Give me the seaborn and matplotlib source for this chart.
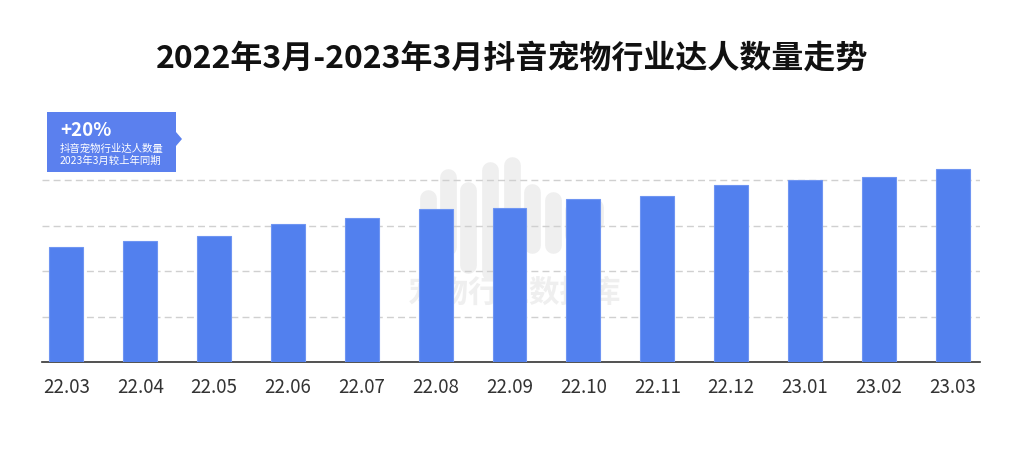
import matplotlib.pyplot as plt
import seaborn as sns
import pandas as pd
from matplotlib.lines import Line2D
from matplotlib.patches import Polygon

# 月份与达人数量（相对值，从图上估读）
months = ['22.03', '22.04', '22.05', '22.06', '22.07', '22.08', '22.09',
          '22.10', '22.11', '22.12', '23.01', '23.02', '23.03']
counts = [25.3, 26.6, 27.7, 30.3, 31.6, 33.6, 33.8, 35.8, 36.5, 38.9, 40.0, 40.7, 42.4]

title = '2022年3月-2023年3月抖音宠物行业达人数量走势'
note_big = '+20%'
note_small = '抖音宠物行业达人数量\n2023年3月较上年同期'

sns.set_style('white')
plt.rcParams['font.family'] = ['Noto Sans CJK SC', 'DejaVu Sans']

df = pd.DataFrame({'month': months, 'count': counts})

fig = plt.figure(figsize=(10.24, 4.69), dpi=100)
ax = fig.add_axes([0.041, 0.228, 0.916, 0.4366])
ax.set_facecolor('none')

# 水印（背景）
wm_color = '#efefef'
strokes = [(428, 198, 222), (448, 177, 247), (468, 190, 265), (490, 170, 272),
           (512, 165, 262), (532, 192, 245), (553, 200, 245), (573, 210, 235), (595, 207, 222)]
for sx, y0, y1 in strokes:
    fig.add_artist(Line2D([sx / 1024, sx / 1024], [1 - y0 / 469, 1 - y1 / 469],
                          color=wm_color, lw=12, solid_capstyle='round', zorder=-2))
fig.text(515 / 1024, 1 - 293 / 469, '宠物行业数据库', ha='center', va='center',
         fontsize=22, fontweight='bold', style='italic', color=wm_color, zorder=-2)

sns.barplot(data=df, x='month', y='count', color='#5280ee', width=0.46,
            saturation=1, edgecolor='#6f95f2', linewidth=0.8, ax=ax, zorder=3)

ax.set_xlim(-0.33, 12.37)
ax.set_ylim(0, 45)
ax.set_yticks([10, 20, 30, 40])
ax.yaxis.grid(True, linestyle=(0, (5, 3)), color='#d0d0d0', linewidth=1)
ax.set_axisbelow(True)
ax.tick_params(axis='y', left=False, labelleft=False)
ax.tick_params(axis='x', bottom=False, labelsize=13.5, labelcolor='#333333', pad=7)
ax.set_xlabel('')
ax.set_ylabel('')
for s in ['top', 'right', 'left']:
    ax.spines[s].set_visible(False)
ax.spines['bottom'].set_color('#333333')
ax.spines['bottom'].set_linewidth(1.2)

fig.text(0.5, 1 - 59 / 469, title, ha='center', va='center',
         fontsize=23, fontweight='bold', color='#111111')

# 标注框
box_color = '#5b80ee'
bx0, bx1, by0, by1 = 47 / 1024, 176 / 1024, 1 - 172 / 469, 1 - 112 / 469
ym = 1 - 139 / 469
fig.add_artist(Polygon([(bx0, by0), (bx1, by0), (bx1, ym - 7 / 469), (bx1 + 6 / 1024, ym),
                        (bx1, ym + 7 / 469), (bx1, by1), (bx0, by1)],
                       closed=True, transform=fig.transFigure, facecolor=box_color,
                       edgecolor='none', zorder=5))
fig.text(60 / 1024, 1 - 130 / 469, note_big, ha='left', va='center',
         fontsize=13.5, fontweight='bold', color='white', zorder=6)
fig.text(60 / 1024, 1 - 155 / 469, note_small, ha='left', va='center',
         fontsize=7.5, color='white', linespacing=1.3, zorder=6)

plt.savefig('out.png', dpi=100)
